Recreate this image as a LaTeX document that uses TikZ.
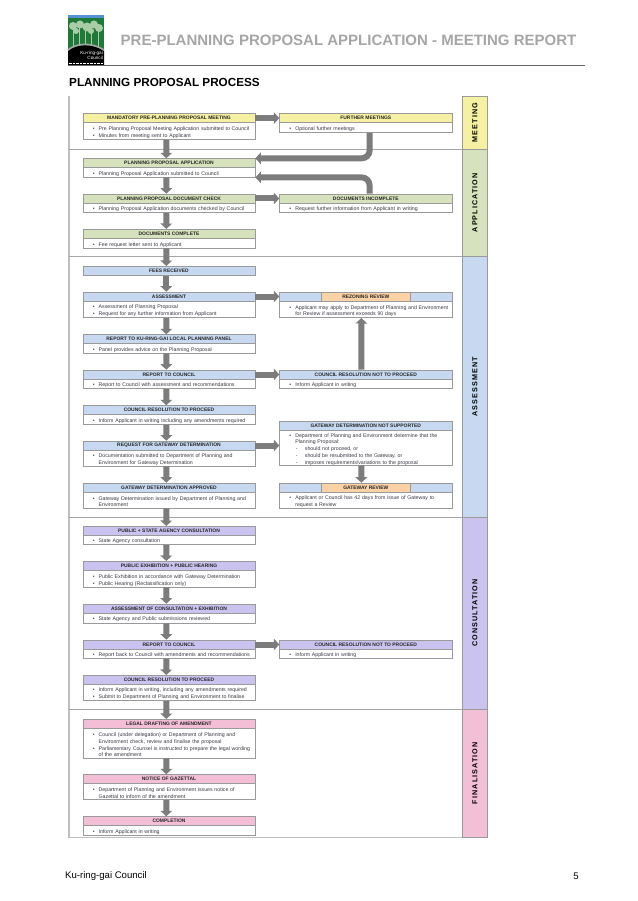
\documentclass[tikz,border=0pt]{standalone}
\usepackage{fontspec}
\setmainfont{Liberation Sans}
\usetikzlibrary{arrows.meta}

\definecolor{meetcol}{HTML}{F6F0A2}
\definecolor{appcol}{HTML}{D6E2BC}
\definecolor{asscol}{HTML}{C6D9F1}
\definecolor{concol}{HTML}{CBC3EF}
\definecolor{fincol}{HTML}{F3BFD6}
\definecolor{revcol}{HTML}{FBD1A6}
\definecolor{boxline}{HTML}{9A9A9A}
\definecolor{arrowcol}{HTML}{7C7C7C}
\definecolor{bodytext}{HTML}{3A3A44}
\definecolor{logogreen}{HTML}{1F7A3A}
\definecolor{logoleaf}{HTML}{A9CDA6}

\tikzset{
	headbox/.style={draw=boxline, line width=.6pt, inner sep=0pt, minimum height=9pt, anchor=north west, text=black!85, font=\fontsize{4.95}{5.5}\bfseries\selectfont},
	lefthead/.style={headbox, minimum width=172pt},
	righthead/.style={headbox, minimum width=172.4pt},
	revhead/.style={draw=boxline, line width=.4pt, fill=revcol, inner sep=0pt, minimum width=88.7pt, minimum height=9pt, text=black!85, font=\fontsize{4.95}{5.5}\bfseries\selectfont},
	bodybox/.style={draw=boxline, line width=.7pt, fill=white, inner xsep=0pt, inner ysep=0pt, anchor=north west, text=bodytext, font=\fontsize{5.25}{6.4}\selectfont, execute at begin node={\leftskip=15.6pt\parskip=.5pt\parindent=0pt\relax}},
	leftbody/.style={bodybox, text width=172pt},
	rightbody/.style={bodybox, text width=172.4pt},
	lane/.style={draw=boxline, line width=.6pt, rotate=90, inner sep=0pt, minimum height=25.4pt, text=black, font=\fontsize{7.2}{8}\bfseries\addfontfeature{LetterSpace=15}},
	blockarrow/.style={draw=arrowcol, line width=6pt, -{Triangle[length=5.5pt,width=11.5pt]}},
	sepline/.style={draw=black!35, line width=.5pt},
}

\newcommand\blt[1]{\par\leavevmode\llap{\textbullet\hspace{4pt}}#1}
\newcommand\dsh[1]{\par\leavevmode\hspace*{.7pt}\makebox[9pt][l]{-}#1}

\begin{document}
\begin{tikzpicture}[x=1pt,y=-1pt]
	\newcommand\xl{82.7}
	\newcommand\xr{279.3}
	\newcommand\dn[2]{\draw[blockarrow] ([xshift=-2.7pt]#1.south) -- ([xshift=-2.7pt]#2.north);}
	\newcommand\acr[2]{\draw[blockarrow] (#1.east) -- (#2.west);}

	\useasboundingbox (0,0) rectangle (637,901);
	\fill[white] (0,0) rectangle (637,901);

	% logo
	\fill[logogreen] (68,15.5) rectangle (104,52);
	\fill[cyan!55!blue!70!white] (68,15.5) rectangle (104,18);
	\fill[logoleaf] (73,26) circle (4) (80,24.5) circle (4) (87,27) circle (4.5) (94,24.5) circle (4) (99,28) circle (4) (76,31) circle (3) (91,31) circle (3);
	\draw[logoleaf, line width=.7pt] (73,27) -- (73,47) (79,27) -- (79,46) (85,27) -- (85,45) (91,27) -- (91,46) (98,27) -- (98,47);
	\fill[black] (68,65) -- (68,51) .. controls (76,44) and (92,43) .. (104,51) -- (104,65) -- cycle;
	\draw[gray!70, line width=1.6pt] (68,50) .. controls (76,43) and (92,42) .. (104,50);
	\node[text=white, align=right, anchor=north east, inner sep=0pt, font=\fontsize{4.6}{5.4}\selectfont] (logotext) at (103,50.5) {Ku-ring-gai\\Council};
	\draw[white, line width=.7pt, dash pattern=on .8pt off .6pt] (68.5,63.4) -- (103.5,63.4);

	% page head and foot
	\node[anchor=west, inner sep=0pt, text=black!35, font=\fontsize{15}{17}\bfseries\selectfont] (pagehead) at (120.5,40) {PRE-PLANNING PROPOSAL APPLICATION - MEETING REPORT};
	\draw[black!60, line width=.6pt] (68,65.4) -- (585,65.4);
	\node[anchor=west, inner sep=0pt, font=\fontsize{11.7}{13}\bfseries\selectfont] (pagetitle) at (69,82.3) {PLANNING PROPOSAL PROCESS};
	\node[anchor=west, inner sep=0pt, font=\fontsize{9.6}{12}\selectfont] (footname) at (65,876) {Ku-ring-gai Council};
	\node[anchor=east, inner sep=0pt, font=\fontsize{9.6}{12}\selectfont] (footpage) at (579,876) {5};

	% frame and lanes
	\draw[black!25, line width=1.2pt] (69,96) -- (69,837.3) -- (487.7,837.3);
	\draw[sepline] (69,149.3) -- (462.3,149.3);
	\draw[sepline] (69,256) -- (462.3,256);
	\draw[sepline] (69,517.3) -- (462.3,517.3);
	\draw[sepline] (69,709) -- (462.3,709);
	\node[lane, fill=meetcol, minimum width=53.3pt] (lanemeet) at (475,122.65) {MEETING};
	\node[lane, fill=appcol, minimum width=106.7pt] (laneapp) at (475,202.65) {APPLICATION};
	\node[lane, fill=asscol, minimum width=261.3pt] (laneass) at (475,386.65) {ASSESSMENT};
	\node[lane, fill=concol, minimum width=191.7pt] (lanecon) at (475,613.15) {CONSULTATION};
	\node[lane, fill=fincol, minimum width=128.3pt] (lanefin) at (475,773.15) {FINALISATION};

	% meeting
	\node[lefthead, fill=meetcol] (mand) at (\xl,113.3) {MANDATORY PRE-PLANNING PROPOSAL MEETING};
	\node[leftbody, minimum height=17pt] (mandb) at (\xl,122.3) {\blt{Pre Planning Proposal Meeting Application submitted to Council}\blt{Minutes from meeting sent to Applicant}};
	\node[righthead, fill=meetcol] (further) at (\xr,113.3) {FURTHER MEETINGS};
	\node[rightbody, minimum height=10pt] (furtherb) at (\xr,122.3) {\blt{Optional further meetings}};

	% application
	\node[lefthead, fill=appcol] (ppa) at (\xl,158.3) {PLANNING PROPOSAL APPLICATION};
	\node[leftbody, minimum height=9.4pt] (ppab) at (\xl,167.3) {\blt{Planning Proposal Application submitted to Council}};
	\node[lefthead, fill=appcol] (check) at (\xl,193.7) {PLANNING PROPOSAL DOCUMENT CHECK};
	\node[leftbody, minimum height=9.6pt] (checkb) at (\xl,202.7) {\blt{Planning Proposal Application documents checked by Council}};
	\node[righthead, fill=appcol] (incomp) at (\xr,193.7) {DOCUMENTS INCOMPLETE};
	\node[rightbody, minimum height=9.6pt] (incompb) at (\xr,202.7) {\blt{Request further information from Applicant in writing}};
	\node[lefthead, fill=appcol] (comp) at (\xl,229) {DOCUMENTS COMPLETE};
	\node[leftbody, minimum height=9.7pt] (compb) at (\xl,238) {\blt{Fee request letter sent to Applicant}};

	% assessment
	\node[lefthead, fill=asscol] (fees) at (\xl,266) {FEES RECEIVED};
	\node[lefthead, fill=asscol] (assess) at (\xl,291.7) {ASSESSMENT};
	\node[leftbody, minimum height=16.3pt] (assessb) at (\xl,301) {\blt{Assessment of Planning Proposal}\blt{Request for any further information from Applicant}};
	\node[righthead, fill=asscol] (rez) at (\xr,291.7) {};
	\node[revhead] (rezlabel) at (rez.center) {REZONING REVIEW};
	\node[rightbody, minimum height=16.3pt] (rezb) at (\xr,301) {\blt{Applicant may apply to Department of Planning and Environment\\for Review if assessment exceeds 90 days}};
	\node[lefthead, fill=asscol] (panel) at (\xl,334.3) {REPORT TO KU-RING-GAI LOCAL PLANNING PANEL};
	\node[leftbody, minimum height=9.4pt] (panelb) at (\xl,343.3) {\blt{Panel provides advice on the Planning Proposal}};
	\node[lefthead, fill=asscol] (report) at (\xl,369.7) {REPORT TO COUNCIL};
	\node[leftbody, minimum height=9.3pt] (reportb) at (\xl,379) {\blt{Report to Council with assessment and recommendations}};
	\node[righthead, fill=asscol] (notpro) at (\xr,369.7) {COUNCIL RESOLUTION NOT TO PROCEED};
	\node[rightbody, minimum height=9.3pt] (notprob) at (\xr,379) {\blt{Inform Applicant in writing}};
	\node[lefthead, fill=asscol] (resol) at (\xl,405.3) {COUNCIL RESOLUTION TO PROCEED};
	\node[leftbody, minimum height=9.7pt] (resolb) at (\xl,414.3) {\blt{Inform Applicant in writing including any amendments required}};
	\node[righthead, fill=asscol] (unsup) at (\xr,420.7) {GATEWAY DETERMINATION NOT SUPPORTED};
	\node[rightbody, minimum height=35.3pt] (unsupb) at (\xr,429.7) {\blt{Department of Planning and Environment determine that the\\Planning Proposal:}\dsh{should not proceed, or}\dsh{should be resubmitted to the Gateway, or}\dsh{imposes requirements/variations to the proposal}};
	\node[lefthead, fill=asscol] (request) at (\xl,440.7) {REQUEST FOR GATEWAY DETERMINATION};
	\node[leftbody, minimum height=16pt] (requestb) at (\xl,449.7) {\blt{Documentation submitted to Department of Planning and\\Environment for Gateway Determination}};
	\node[lefthead, fill=asscol] (appr) at (\xl,482.7) {GATEWAY DETERMINATION APPROVED};
	\node[leftbody, minimum height=16pt] (apprb) at (\xl,491.7) {\blt{Gateway Determination issued by Department of Planning and\\Environment}};
	\node[righthead, fill=asscol] (gwrev) at (\xr,482.7) {};
	\node[revhead] (gwrevlabel) at (gwrev.center) {GATEWAY REVIEW};
	\node[rightbody, minimum height=16pt] (gwrevb) at (\xr,491.7) {\blt{Applicant or Council has 42 days from issue of Gateway to\\request a Review}};

	% consultation
	\node[lefthead, fill=concol] (public) at (\xl,526) {PUBLIC + STATE AGENCY CONSULTATION};
	\node[leftbody, minimum height=9.3pt] (publicb) at (\xl,535) {\blt{State Agency consultation}};
	\node[lefthead, fill=concol] (exhib) at (\xl,561) {PUBLIC EXHIBITION + PUBLIC HEARING};
	\node[leftbody, minimum height=16.4pt] (exhibb) at (\xl,570.3) {\blt{Public Exhibition in accordance with Gateway Determination}\blt{Public Hearing (Reclassification only)}};
	\node[lefthead, fill=concol] (review) at (\xl,603.7) {ASSESSMENT OF CONSULTATION + EXHIBITION};
	\node[leftbody, minimum height=10pt] (reviewb) at (\xl,612.7) {\blt{State Agency and Public submissions reviewed}};
	\node[lefthead, fill=concol] (creport) at (\xl,639.7) {REPORT TO COUNCIL};
	\node[leftbody, minimum height=9.3pt] (creportb) at (\xl,648.7) {\blt{Report back to Council with amendments and recommendations}};
	\node[righthead, fill=concol] (cnotpro) at (\xr,639.7) {COUNCIL RESOLUTION NOT TO PROCEED};
	\node[rightbody, minimum height=9.3pt] (cnotprob) at (\xr,648.7) {\blt{Inform Applicant in writing}};
	\node[lefthead, fill=concol] (cresol) at (\xl,675) {COUNCIL RESOLUTION TO PROCEED};
	\node[leftbody, minimum height=16.3pt] (cresolb) at (\xl,684) {\blt{Inform Applicant in writing, including any amendments required}\blt{Submit to Department of Planning and Environment to finalise}};

	% finalisation
	\node[lefthead, fill=fincol] (legal) at (\xl,719) {LEGAL DRAFTING OF AMENDMENT};
	\node[leftbody, minimum height=29.7pt] (legalb) at (\xl,728) {\blt{Council (under delegation) or Department of Planning and\\Environment check, review and finalise the proposal}\blt{Parliamentary Counsel is instructed to prepare the legal wording\\of the amendment}};
	\node[lefthead, fill=fincol] (notice) at (\xl,774.3) {NOTICE OF GAZETTAL};
	\node[leftbody, minimum height=16pt] (noticeb) at (\xl,783.3) {\blt{Department of Planning and Environment issues notice of\\Gazettal to inform of the amendment}};
	\node[lefthead, fill=fincol] (finish) at (\xl,816.3) {COMPLETION};
	\node[leftbody, minimum height=9.7pt] (finishb) at (\xl,825.3) {\blt{Inform Applicant in writing}};

	% arrows
	\dn{mandb}{ppa} \dn{ppab}{check} \dn{checkb}{comp} \dn{compb}{fees} \dn{fees}{assess}
	\dn{assessb}{panel} \dn{panelb}{report} \dn{reportb}{resol} \dn{resolb}{request} \dn{requestb}{appr}
	\dn{apprb}{public} \dn{publicb}{exhib} \dn{exhibb}{review} \dn{reviewb}{creport} \dn{creportb}{cresol}
	\dn{cresolb}{legal} \dn{legalb}{notice} \dn{noticeb}{finish}
	\acr{mand}{further} \acr{check}{incomp} \acr{assess}{rez} \acr{report}{notpro} \acr{creport}{cnotpro}
	\draw[blockarrow] (request.east) -- (request.east -| unsupb.west);
	\draw[blockarrow, rounded corners=8pt] ([xshift=3.8pt]furtherb.south) |- (ppa.north east);
	\draw[blockarrow, rounded corners=8pt] ([xshift=3.8pt]incomp.north) |- (ppab.south east);
	\draw[blockarrow] ([xshift=-4.5pt]unsupb.south) -- ([xshift=-4.5pt]gwrev.north);
	\draw[blockarrow] ([xshift=-4.5pt]notpro.north) -- ([xshift=-4.5pt]rezb.south);
\end{tikzpicture}
\end{document}
